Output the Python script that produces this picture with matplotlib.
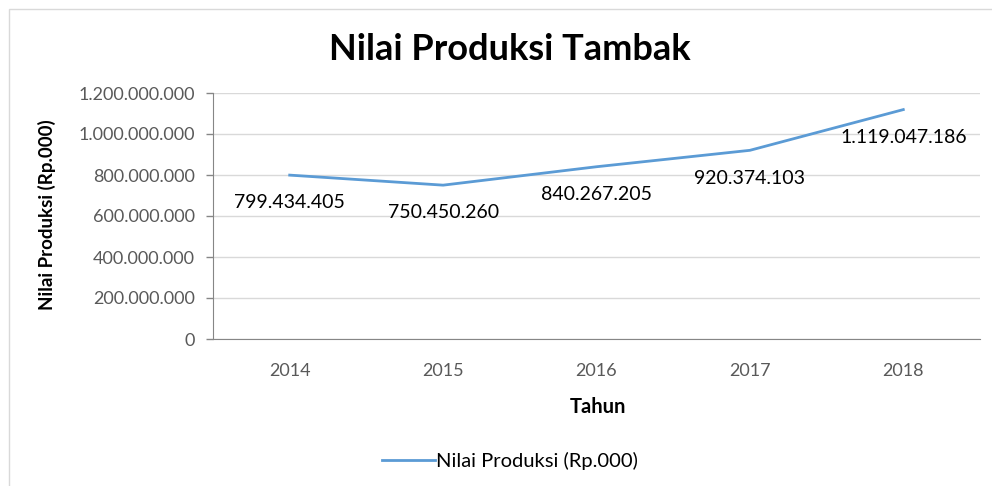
import matplotlib.pyplot as plt
from matplotlib.patches import Rectangle
from matplotlib.ticker import FuncFormatter

years = ["2014", "2015", "2016", "2017", "2018"]
nilai = [799434405, 750450260, 840267205, 920374103, 1119047186]
y_ticks = [0, 200000000, 400000000, 600000000, 800000000, 1000000000, 1200000000]

plt.rcParams['font.family'] = ['Lato', 'DejaVu Sans']


def titik(v):
    # format ribuan pakai titik
    return f"{int(v):,}".replace(",", ".")


fig = plt.figure(figsize=(9.92, 4.86), dpi=100)
ax = fig.add_axes([213 / 992, 1 - 339 / 486, (980 - 213) / 992, (339 - 93) / 486])

# bingkai luar
fig.patches.append(Rectangle((9 / 992, -0.1), 1.2, 1.1 - 9 / 486, transform=fig.transFigure,
                             fill=False, edgecolor='#d9d9d9', linewidth=1))

x = list(range(len(years)))
ax.plot(x, nilai, color='#5b9bd5', linewidth=2.0, label='Nilai Produksi (Rp.000)')

for i, v in enumerate(nilai):
    ax.annotate(titik(v), (i, v), xytext=(0, -20), textcoords='offset points',
                ha='center', va='center', fontsize=14, color='black')

ax.set_xlim(-0.5, len(years) - 0.5)
ax.set_ylim(0, 1200000000)
ax.set_yticks(y_ticks)
ax.yaxis.set_major_formatter(FuncFormatter(lambda v, p: titik(v)))
ax.set_xticks(x)
ax.set_xticklabels(years)

ax.grid(axis='y', color='#d9d9d9', linewidth=1)
ax.set_axisbelow(True)
for s in ['top', 'right']:
    ax.spines[s].set_visible(False)
ax.spines['left'].set_color('#868686')
ax.spines['bottom'].set_color('#868686')
ax.tick_params(axis='y', colors='#595959', labelsize=13, length=5, width=1, color='#868686', pad=8)
ax.tick_params(axis='x', colors='#595959', labelsize=13, length=0, pad=17)

fig.text(510 / 992, 1 - 50 / 486, 'Nilai Produksi Tambak', fontsize=26, fontweight='bold',
         ha='center', va='center')
ax.set_xlabel('Tahun', fontsize=14.5, fontweight='bold')
ax.xaxis.set_label_coords((598 - 213) / 767, -(407 - 339) / 246)
ax.set_ylabel('Nilai Produksi (Rp.000)', fontsize=13.5, fontweight='bold')
ax.yaxis.set_label_coords((47 - 213) / 767, (339 - 215) / 246)
ax.xaxis.label.set_va('center')
ax.yaxis.label.set_va('center')

ax.legend(loc='center', bbox_to_anchor=(510 / 992, 1 - 461 / 486), bbox_transform=fig.transFigure,
          frameon=False, fontsize=14.5, handlelength=2.6, handletextpad=0.05)

fig.savefig('out.png', dpi=100)
